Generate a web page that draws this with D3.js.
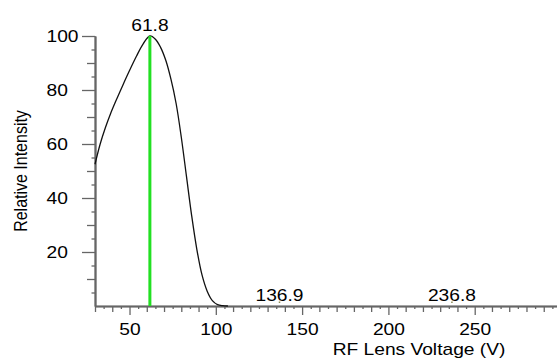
<!DOCTYPE html>
<html>
<head>
<meta charset="utf-8">
<script src="https://cdn.jsdelivr.net/npm/d3@7"></script>
<style>
  html, body { margin: 0; padding: 0; background: #fff; }
  svg { display: block; }
  text { font-family: "Liberation Sans", Arial, sans-serif; fill: #000; }
</style>
</head>
<body>
<svg id="chart" width="557" height="361"></svg>
<script>
// ---- data ----
const voltage   = [30, 33, 36, 39, 42, 46, 50, 54, 58, 61.8, 65, 68, 71, 74, 77, 80, 83, 86, 89, 92, 95, 98, 101, 104, 107];
const intensity = [52.5, 60, 66, 71.2, 75.8, 81.6, 87.2, 92.5, 97.2, 100, 98.8, 95.8, 91, 84, 75, 62.5, 48, 33.5, 21, 11.5, 5.5, 2, 0.5, 0.1, 0];
const peakVoltages   = [61.8, 136.9, 236.8];
const peakIntensity  = [100, 0, 0];
const peakLabels     = ["61.8", "136.9", "236.8"];
const markerVoltage  = 61.8;
const xMajorTicks = [50, 100, 150, 200, 250];
const yMajorTicks = [20, 40, 60, 80, 100];
const xTitle = "RF Lens Voltage (V)";
const yTitle = "Relative Intensity";

// ---- layout ----
const svg = d3.select("#chart");
const SX = 1.2; // horizontal text stretch
const x = d3.scaleLinear().domain([30, 300]).range([95, 561]);
const y = d3.scaleLinear().domain([0, 100]).range([306, 36]);
const axisColor = "#666";

// minor ticks
const xMinor5 = d3.range(30, 300, 5).filter(v => v % 10 !== 0);
const xMinor10 = d3.range(30, 300, 10).filter(v => v % 50 !== 0);
const yMinor5 = d3.range(5, 100, 5).filter(v => v % 10 !== 0);
const yMinor10 = d3.range(10, 100, 10).filter(v => v % 20 !== 0);

function styleAxis(g) {
  g.select(".domain").attr("stroke", axisColor).attr("stroke-width", 1.6);
  g.selectAll(".tick line").attr("stroke", axisColor).attr("stroke-width", 1.3);
}

// X axis
const gx = svg.append("g").attr("transform", `translate(0,${y(0)})`);
gx.append("g").call(d3.axisBottom(x).tickValues(xMinor5).tickSize(3).tickFormat("").tickSizeOuter(0)).call(styleAxis);
gx.append("g").call(d3.axisBottom(x).tickValues(xMinor10).tickSize(6).tickFormat("").tickSizeOuter(0)).call(styleAxis);
const gxMaj = gx.append("g").call(d3.axisBottom(x).tickValues(xMajorTicks).tickSize(9).tickFormat(d3.format("d")).tickSizeOuter(0)).call(styleAxis);
gxMaj.selectAll(".tick text")
  .attr("y", 29).attr("dy", 0)
  .attr("transform", `scale(${SX},1)`)
  .style("font-size", "16px").style("font-family", '"Liberation Sans", Arial, sans-serif').attr("fill", "#000");

// Y axis
const gy = svg.append("g").attr("transform", `translate(${x(30)},0)`);
gy.append("g").call(d3.axisLeft(y).tickValues(yMinor5).tickSize(3.5).tickFormat("").tickSizeOuter(0)).call(styleAxis);
gy.append("g").call(d3.axisLeft(y).tickValues(yMinor10).tickSize(8).tickFormat("").tickSizeOuter(0)).call(styleAxis);
const gyMaj = gy.append("g").call(d3.axisLeft(y).tickValues(yMajorTicks).tickSize(13).tickFormat(d3.format("d")).tickSizeOuter(0)).call(styleAxis);
gyMaj.selectAll(".tick text")
  .attr("text-anchor", "start")
  .attr("x", -48.5 / SX).attr("dy", "0.32em")
  .attr("transform", `scale(${SX},1)`)
  .style("font-size", "16px").style("font-family", '"Liberation Sans", Arial, sans-serif').attr("fill", "#000");

// curve
const pts = voltage.map((v, i) => [v, intensity[i]]);
svg.append("path")
  .datum(pts)
  .attr("fill", "none")
  .attr("stroke", "#111")
  .attr("stroke-width", 1.3)
  .attr("d", d3.line().x(d => x(d[0])).y(d => y(Math.max(0, d[1]))).curve(d3.curveCatmullRom.alpha(0.5)));

// peak markers (dots)
svg.selectAll(".pdot").data(peakVoltages.slice(1)).enter().append("rect")
  .attr("x", d => x(d) - 0.75).attr("y", y(0) - 4.5)
  .attr("width", 1.5).attr("height", 1.5).attr("fill", "#8a8a55");

// green marker line
svg.append("line")
  .attr("x1", x(markerVoltage)).attr("x2", x(markerVoltage))
  .attr("y1", y(0)).attr("y2", y(100))
  .attr("stroke", "#22e022").attr("stroke-width", 3);

// peak labels
svg.selectAll(".plabel").data(peakVoltages).enter().append("text")
  .attr("text-anchor", "middle")
  .attr("transform", (d, i) => `translate(${x(d)},${y(peakIntensity[i]) - 5}) scale(${SX},1)`)
  .style("font-size", "16px")
  .text((d, i) => peakLabels[i]);

// axis titles
svg.append("text")
  .attr("text-anchor", "middle")
  .attr("transform", `translate(419,355) scale(${SX},1)`)
  .style("font-size", "16px")
  .text(xTitle);

svg.append("text")
  .attr("text-anchor", "middle")
  .attr("transform", `translate(27,171) scale(${SX},1) rotate(-90)`)
  .style("font-size", "16px")
  .text(yTitle);
</script>
</body>
</html>
